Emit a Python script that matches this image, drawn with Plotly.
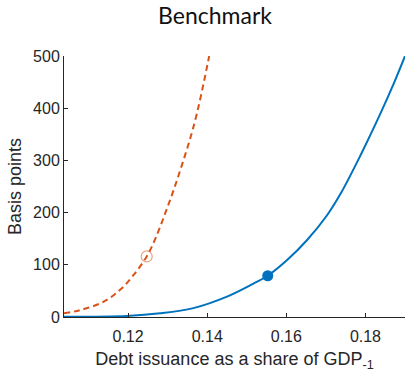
import plotly.graph_objects as go

# Blue solid curve (benchmark)
blue_x = [0.1038, 0.1197, 0.1281, 0.1365, 0.1450, 0.1517, 0.1553, 0.1602, 0.1652,
          0.1703, 0.1737, 0.1787, 0.1838, 0.1872, 0.1900]
blue_y = [0.5, 2, 7, 17, 39, 64, 79, 109, 147, 195, 236, 309, 390, 448, 500]

# Orange dashed curve
orange_x = [0.1038, 0.10785, 0.11375, 0.11797, 0.12134, 0.1247, 0.1270, 0.1294,
            0.1315, 0.1336, 0.1357, 0.1374, 0.1391, 0.1405]
orange_y = [7, 13, 29, 52, 80, 116, 152, 199, 243, 291, 342, 390, 448, 500]

# Markers
blue_pt_x, blue_pt_y = [0.1553], [79]
orange_pt_x, orange_pt_y = [0.1247], [116]

x_ticks = [0.12, 0.14, 0.16, 0.18]
x_tick_labels = ["0.12", "0.14", "0.16", "0.18"]
y_ticks = [0, 100, 200, 300, 400, 500]

BLUE = "#0072BD"
ORANGE = "#D95319"
AX = "#262626"

fig = go.Figure()
fig.add_trace(go.Scatter(x=orange_x, y=orange_y, mode="lines",
                         line=dict(color=ORANGE, width=2, dash="6px,4px", shape="spline", smoothing=1),
                         showlegend=False))
fig.add_trace(go.Scatter(x=blue_x, y=blue_y, mode="lines",
                         line=dict(color=BLUE, width=2, shape="spline", smoothing=1),
                         showlegend=False))
fig.add_trace(go.Scatter(x=orange_pt_x, y=orange_pt_y, mode="markers",
                         marker=dict(symbol="circle-open", size=11,
                                     color="rgba(217,83,25,0.55)", line=dict(width=1.2)),
                         showlegend=False))
fig.add_trace(go.Scatter(x=blue_pt_x, y=blue_pt_y, mode="markers",
                         marker=dict(symbol="circle", size=11, color=BLUE),
                         showlegend=False))

fig.update_layout(
    width=420, height=373,
    margin=dict(l=64, r=15, t=56, b=56, autoexpand=False),
    paper_bgcolor="white", plot_bgcolor="white",
    title=dict(text="Benchmark", xref="container", x=0.512, xanchor="center",
               yref="container", y=0.958, yanchor="middle",
               font=dict(family="Lato", size=23, color="#111111")),
    font=dict(family="Liberation Sans", color=AX),
)
fig.update_xaxes(range=[0.1038, 0.19], tickvals=x_ticks, ticktext=x_tick_labels,
                 automargin=False,
                 showgrid=False, zeroline=False, showline=True, linecolor=AX, linewidth=1,
                 ticks="inside", ticklen=4, tickcolor=AX, ticklabelstandoff=5,
                 tickfont=dict(size=16, color=AX),
                 title=dict(text="Debt issuance as a share of GDP<sub>-1</sub>",
                            font=dict(size=18, color=AX), standoff=8))
fig.update_yaxes(range=[0, 500], tickvals=y_ticks, automargin=False,
                 showgrid=False, zeroline=False, showline=True, linecolor=AX, linewidth=1,
                 ticks="inside", ticklen=4, tickcolor=AX,
                 tickfont=dict(size=16, color=AX),
                 title=dict(text="Basis points", font=dict(size=18, color=AX), standoff=6))

fig.write_html("out.html")
